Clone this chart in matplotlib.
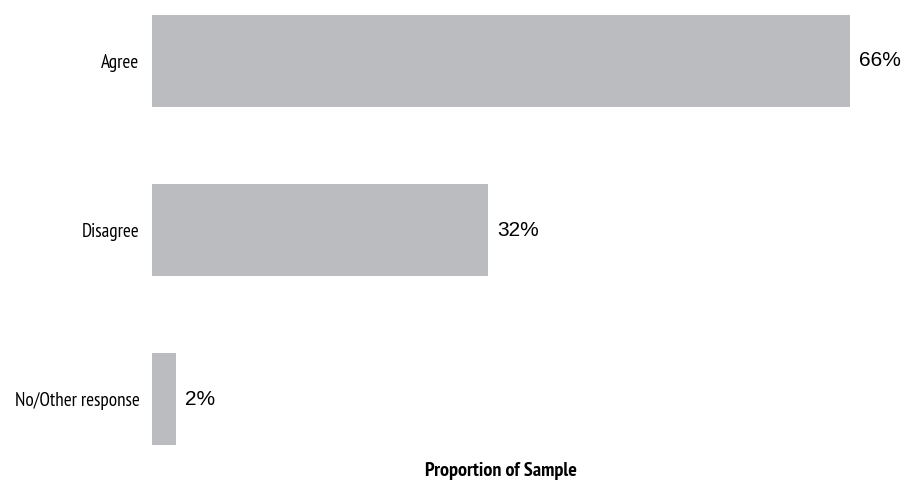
import matplotlib
matplotlib.use("Agg")
import matplotlib.pyplot as plt

categories = ["Agree", "Disagree", "No/Other response"]
values = [66, 31.8, 2.3]
labels = ["66%", "32%", "2%"]

narrow = ["PT Sans Narrow", "Archivo Narrow", "Liberation Sans", "DejaVu Sans"]

fig = plt.figure(figsize=(9.02, 4.83), dpi=100)
ax = fig.add_axes([152 / 902, 1 - 445 / 483, 698 / 902, 430 / 483])

pos = list(range(len(categories)))
bh = 0.544
ax.barh(pos, values, height=bh, color="#bbbcc0")
ax.set_xlim(0, 66)
ax.set_ylim(2 + bh / 2, -bh / 2)

for p, v, t in zip(pos, values, labels):
    ax.annotate(t, (v, p), xytext=(6.5, 0), textcoords="offset points",
                va="center", ha="left", fontsize=15,
                family=["Liberation Sans", "DejaVu Sans"], annotation_clip=False)

ax.set_yticks(pos)
ax.set_yticklabels(categories, family=narrow, fontsize=13.8)
ax.tick_params(axis="y", length=0, pad=9)
ax.set_xticks([])
for s in ax.spines.values():
    s.set_visible(False)

ax.set_xlabel("Proportion of Sample", family=narrow, fontsize=14.5,
              fontweight="bold", labelpad=12)

fig.savefig("out.png", dpi=100)
